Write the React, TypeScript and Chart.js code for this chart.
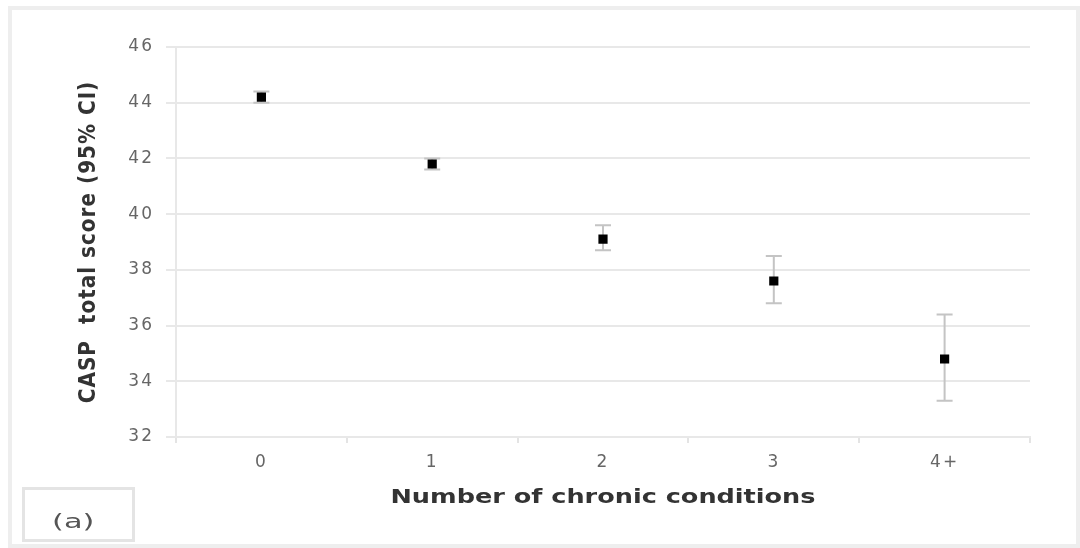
import React, { useEffect, useRef } from "react";
import { Chart, registerables } from "chart.js";

Chart.register(...registerables);

const categories = ["0", "1", "2", "3", "4+"];
const means = [44.2, 41.8, 39.1, 37.6, 34.8];
const lowerCI = [44.0, 41.6, 38.7, 36.8, 33.3];
const upperCI = [44.4, 42.0, 39.6, 38.5, 36.4];
const yTicks = [32, 34, 36, 38, 40, 42, 44, 46];

const xTitleText = "Number of chronic conditions";
const yTitleText = "CASP  total score (95% CI)";

const errorBarPlugin = {
  id: "errorBars",
  beforeDatasetsDraw(chart: any) {
    const ctx = chart.ctx;
    const xs = chart.scales.x;
    const ys = chart.scales.y;
    ctx.save();
    ctx.strokeStyle = "#c4c4c4";
    ctx.lineWidth = 2;
    categories.forEach((c, i) => {
      const x = xs.getPixelForValue(i);
      const yl = ys.getPixelForValue(lowerCI[i]);
      const yu = ys.getPixelForValue(upperCI[i]);
      ctx.beginPath();
      ctx.moveTo(x, yl);
      ctx.lineTo(x, yu);
      ctx.moveTo(x - 8, yl);
      ctx.lineTo(x + 8, yl);
      ctx.moveTo(x - 8, yu);
      ctx.lineTo(x + 8, yu);
      ctx.stroke();
    });
    ctx.restore();
  },
};

// text in the reference is stretched horizontally; mimic with a horizontal scale
const xTitleTargetWidth = 425;
const yTitleStretch = 1.15;
const yTitleSpacing = "1px";
const labelSpacing = "2px";

const stretchPlugin = {
  id: "stretch",
  beforeDraw(chart: any) {
    Object.values(chart.scales).forEach((s: any) => {
      if (s.__wrapped) return;
      s.__wrapped = true;
      const origTitle = s.drawTitle;
      const origLabels = s.drawLabels;
      s.drawTitle = function (...args: any[]) {
        const ctx: any = this.ctx;
        ctx.save();
        if (this.axis === "x") {
          const f = this.options.title.font;
          ctx.font = `${f.weight || "normal"} ${f.size}px ${f.family}`;
          const w = ctx.measureText(this.options.title.text).width;
          const sx = xTitleTargetWidth / w;
          const cx = (this.left + this.right) / 2;
          ctx.translate(cx, 0);
          ctx.scale(sx, 1);
          ctx.translate(-cx, 0);
        } else {
          const f = this.options.title.font;
          const cx = this.left + this.options.title.padding.top + (f.size * 1.2) / 2;
          ctx.letterSpacing = yTitleSpacing;
          ctx.translate(cx, 0);
          ctx.scale(yTitleStretch, 1);
          ctx.translate(-cx, 0);
        }
        origTitle.apply(this, args);
        ctx.restore();
      };
      s.drawLabels = function (...args: any[]) {
        const ctx: any = this.ctx;
        ctx.save();
        ctx.letterSpacing = labelSpacing;
        origLabels.apply(this, args);
        ctx.restore();
      };
    });
  },
};

const tickFont = { family: "'DejaVu Sans', sans-serif", size: 17 };
const titleFont = { family: "'DejaVu Sans', sans-serif", size: 20, weight: "bold" };

export default function App() {
  const ref = useRef<HTMLCanvasElement | null>(null);

  useEffect(() => {
    document.body.style.margin = "0";
    const chart = new Chart(ref.current as HTMLCanvasElement, {
      type: "line",
      data: {
        labels: categories,
        datasets: [
          {
            data: means,
            showLine: false,
            pointStyle: "rect",
            pointRadius: 6.5,
            pointBackgroundColor: "#000",
            pointBorderColor: "#000",
            pointBorderWidth: 0,
          },
        ],
      },
      options: {
        animation: false,
        responsive: false,
        maintainAspectRatio: false,
        layout: { padding: { top: 47, left: 8, right: 50, bottom: 0 } },
        plugins: {
          legend: { display: false },
          tooltip: { enabled: false },
        },
        scales: {
          x: {
            type: "category",
            offset: true,
            afterFit(scale: any) {
              scale.height = 111;
            },
            grid: {
              display: true,
              drawOnChartArea: false,
              drawTicks: true,
              tickLength: 6,
              offset: true,
              color: "#e4e4e4",
              lineWidth: 2,
            },
            border: { display: true, color: "#e8e8e8", width: 2 },
            ticks: {
              color: "#666",
              padding: 9,
              font: tickFont,
            },
            title: {
              display: true,
              text: xTitleText,
              color: "#333",
              font: titleFont,
              padding: { top: 0, bottom: 38 },
            },
          },
          y: {
            min: 32,
            max: 46,
            afterFit(scale: any) {
              scale.width = 168;
            },
            afterBuildTicks(scale: any) {
              scale.ticks = yTicks.map((v) => ({ value: v }));
            },
            grid: {
              color: "#e8e8e8",
              lineWidth: 2,
              tickLength: 10,
            },
            border: { display: true, color: "#e8e8e8", width: 2 },
            ticks: {
              color: "#666",
              padding: 12,
              font: tickFont,
            },
            title: {
              display: true,
              text: yTitleText,
              color: "#333",
              font: titleFont,
              padding: { top: 69, bottom: 0 },
            },
          },
        },
      },
      plugins: [stretchPlugin, errorBarPlugin],
    } as any);
    return () => chart.destroy();
  }, []);

  return (
    <div style={{ position: "absolute", left: 0, top: 0, width: 1080, height: 548, background: "#fff" }}>
      <div
        style={{
          position: "absolute",
          left: 8,
          top: 6,
          width: 1072,
          height: 542,
          boxSizing: "border-box",
          border: "4px solid #eeeeee",
        }}
      />
      <canvas ref={ref} width={1080} height={548} style={{ position: "absolute", left: 0, top: 0 }} />
      <div
        style={{
          position: "absolute",
          left: 22,
          top: 487,
          width: 113,
          height: 55,
          boxSizing: "border-box",
          border: "3px solid #e4e4e4",
          display: "flex",
          alignItems: "center",
          justifyContent: "center",
          paddingTop: 12,
          paddingRight: 10,
          fontFamily: "'DejaVu Sans', sans-serif",
          fontSize: 19,
          color: "#555",
        }}
      >
        <span style={{ display: "inline-block", transform: "scaleX(1.6)" }}>(a)</span>
      </div>
    </div>
  );
}
